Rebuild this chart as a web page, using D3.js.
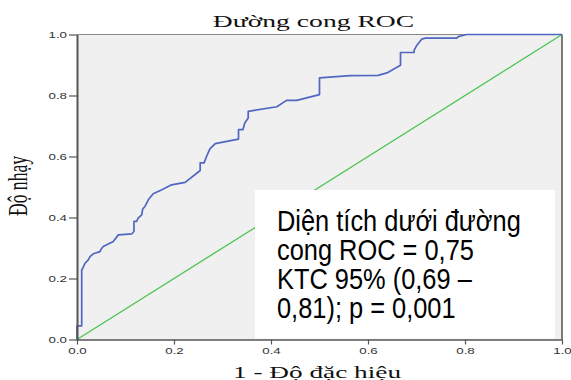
<!DOCTYPE html>
<html><head><meta charset="utf-8">
<script src="https://cdn.jsdelivr.net/npm/d3@7"></script>
<style>body{margin:0;background:#fff}svg{display:block}</style>
</head><body>
<script>
// ROC curve points (1 - specificity, sensitivity)
const fpr = [0,0,0.0097,0.0097,0.012,0.0165,0.0233,0.0268,0.0336,0.0474,0.0495,0.0542,0.0748,0.0852,0.1128,0.1175,0.1175,0.123,0.126,0.1334,0.1355,0.140,0.147,0.157,0.175,0.195,0.223,0.254,0.254,0.262,0.267,0.274,0.285,0.333,0.333,0.342,0.346,0.353,0.353,0.412,0.432,0.453,0.500,0.500,0.563,0.621,0.639,0.667,0.667,0.695,0.695,0.700,0.711,0.718,0.783,0.786,0.803,1.0];
const tpr = [0,0.045,0.045,0.228,0.234,0.250,0.261,0.272,0.281,0.288,0.296,0.305,0.321,0.343,0.346,0.354,0.387,0.387,0.398,0.409,0.428,0.436,0.458,0.478,0.491,0.507,0.515,0.554,0.579,0.579,0.600,0.625,0.642,0.657,0.688,0.688,0.710,0.726,0.748,0.763,0.784,0.784,0.803,0.858,0.865,0.866,0.874,0.899,0.941,0.941,0.948,0.963,0.985,0.988,0.988,0.993,1.0,1.0];
const refLine = [0,1];
const ticks = [0,0.2,0.4,0.6,0.8,1.0];
const title = "Đường cong ROC";
const xTitle = "1 - Độ đặc hiệu";
const yTitle = "Độ nhạy";
const noteLines = ["Diện tích dưới đường","cong ROC = 0,75","KTC 95% (0,69 –","0,81); p = 0,001"];

const W=571,H=380, SX=1.55;
const svg=d3.select("body").append("svg").attr("width",W).attr("height",H);
const x=d3.scaleLinear().domain([0,1]).range([77,562]);
const y=d3.scaleLinear().domain([0,1]).range([339.5,34.5]);

// plot background
svg.append("rect").attr("x",x(0)).attr("y",y(1)).attr("width",x(1)-x(0)).attr("height",y(0)-y(1)).attr("fill","#f0f0f0");
// frame top and right
svg.append("line").attr("x1",x(0)).attr("x2",x(1)).attr("y1",y(1)).attr("y2",y(1)).attr("stroke","#888").attr("stroke-width",1.2);
svg.append("line").attr("x1",x(1)).attr("x2",x(1)).attr("y1",y(1)).attr("y2",y(0)).attr("stroke","#7a7a7a").attr("stroke-width",2);

// reference diagonal
svg.append("path").datum(refLine).attr("fill","none").attr("stroke","#4cc452").attr("stroke-width",1.3)
  .attr("d",d3.line().x(d=>x(d)).y(d=>y(d)));

// ROC curve
svg.append("path").datum(d3.range(fpr.length)).attr("fill","none").attr("stroke","#4f67c0").attr("stroke-width",1.7)
  .attr("stroke-linejoin","round")
  .attr("d",d3.line().x(i=>x(fpr[i])).y(i=>y(tpr[i])));

// text box
svg.append("rect").attr("x",255).attr("y",190).attr("width",300).attr("height",y(0)-1-190).attr("fill","#ffffff");
noteLines.forEach((t,i)=>{
  svg.append("text").attr("transform",`translate(277,${231+i*29.1}) scale(1,1.16)`)
    .attr("font-family","Liberation Sans, Arial, sans-serif").attr("font-size",25.4).attr("fill","#000").text(t);
});

// axes
const fmt=d3.format(".1f");
const gx=svg.append("g").attr("transform",`translate(0,${y(0)})`)
  .call(d3.axisBottom(x).tickValues(ticks).tickFormat(fmt).tickSize(5).tickSizeOuter(0).tickPadding(3));
gx.select(".domain").attr("stroke","#555").attr("stroke-width",1.6);
gx.selectAll(".tick line").attr("stroke","#555").attr("stroke-width",1.2);
gx.selectAll(".tick text").attr("font-family","Liberation Sans, Arial, sans-serif").attr("font-size",8.6).attr("fill","#333")
  .attr("transform",`scale(${SX},1)`);

const gy=svg.append("g").attr("transform",`translate(${x(0)},0)`)
  .call(d3.axisLeft(y).tickValues(ticks).tickFormat(fmt).tickSize(8).tickSizeOuter(0));
gy.select(".domain").attr("stroke","#555").attr("stroke-width",2);
gy.selectAll(".tick line").attr("stroke","#555").attr("stroke-width",1.2);
gy.selectAll(".tick text").attr("font-family","Liberation Sans, Arial, sans-serif").attr("font-size",8.6).attr("fill","#333")
  .attr("x",-10/SX).attr("transform",`scale(${SX},1)`);

// titles
svg.append("text").attr("transform",`translate(313.5,27) scale(1.57,1)`).attr("text-anchor","middle")
  .attr("font-family","Liberation Serif, Times New Roman, serif").attr("font-size",17.6).attr("fill","#111").text(title);
svg.append("text").attr("transform",`translate(317,377.5) scale(${SX},1)`).attr("text-anchor","middle")
  .attr("font-family","Liberation Serif, Times New Roman, serif").attr("font-size",17.6).attr("fill","#111").text(xTitle);
svg.append("text").attr("transform",`translate(27,186) scale(${SX},1) rotate(-90)`).attr("text-anchor","middle")
  .attr("font-family","Liberation Serif, Times New Roman, serif").attr("font-size",17.6).attr("fill","#111").text(yTitle);
</script>
</body></html>
